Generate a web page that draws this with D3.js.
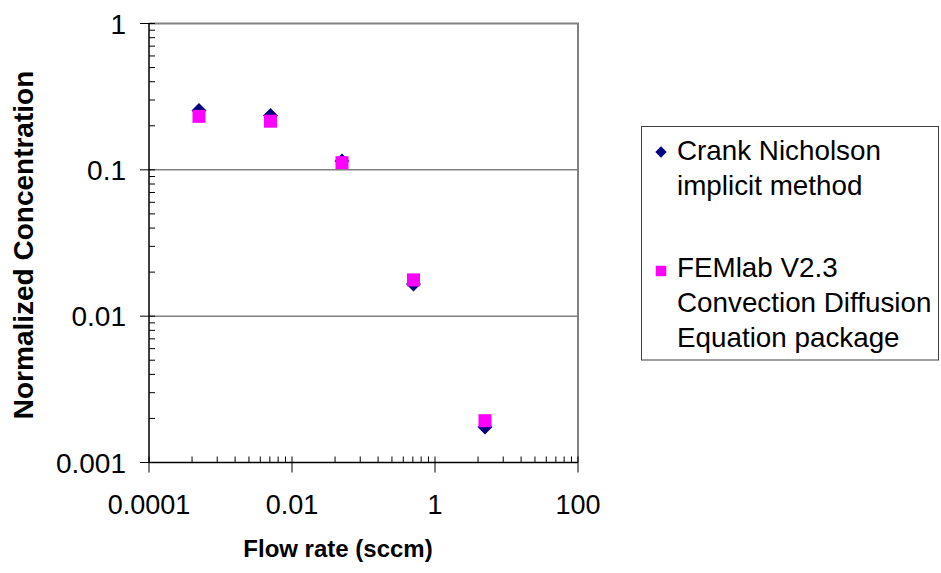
<html>
<style>
  body { margin: 0; background: #fff; }
  text { font-family: "Liberation Sans", Arial, sans-serif; fill: #000; }
</style>
<body>
<script src="https://d3js.org/d3.v7.min.js"></script>
<svg id="chart" width="941" height="573"></svg>
<script>
// data
var flow = [0.0005, 0.005, 0.05, 0.5, 5];
var crank = [0.254, 0.235, 0.115, 0.0166, 0.00175];
var femlab = [0.232, 0.215, 0.112, 0.0177, 0.00193];
var xTicks = [0.0001, 0.01, 1, 100];
var yTicks = [0.001, 0.01, 0.1, 1];
var seriesNames = [["Crank Nicholson", "implicit method"],
                   ["FEMlab V2.3", "Convection Diffusion", "Equation package"]];

var svg = d3.select("#chart");
var pL = 149, pR = 578, pT = 23.5, pB = 462.5;

var x = d3.scaleLog().domain([0.0001, 100]).range([pL, pR]);
var y = d3.scaleLog().domain([0.001, 1]).range([pB, pT]);

// gridlines
svg.selectAll(".grid").data([0.01, 0.1]).enter().append("line")
  .attr("x1", pL).attr("x2", pR)
  .attr("y1", function(d) { return y(d); }).attr("y2", function(d) { return y(d); })
  .style("stroke", "#808080").style("stroke-width", 1.5);

// plot border (top, right)
svg.append("path")
  .attr("d", "M" + pL + "," + pT + "H" + pR + "V" + pB)
  .style("fill", "none").style("stroke", "#808080").style("stroke-width", 2);

// minor ticks: y normal 2..9 per decade, x has major unit of 100 so k^2 steps
var yMinor = [];
yTicks.slice(0, 3).forEach(function(t) { for (var k = 2; k < 10; k++) yMinor.push(t * k); });
var xMinor = [];
xTicks.slice(0, 3).forEach(function(t) { for (var k = 2; k < 10; k++) xMinor.push(t * k * k); });

svg.selectAll(".ymin").data(yMinor).enter().append("line")
  .attr("x1", pL).attr("x2", pL + 6)
  .attr("y1", function(d) { return y(d); }).attr("y2", function(d) { return y(d); })
  .style("stroke", "#000").style("stroke-width", 1);
svg.selectAll(".xmin").data(xMinor).enter().append("line")
  .attr("y1", pB).attr("y2", pB - 6)
  .attr("x1", function(d) { return x(d); }).attr("x2", function(d) { return x(d); })
  .style("stroke", "#000").style("stroke-width", 1);

// major ticks
svg.selectAll(".ymaj").data(yTicks).enter().append("line")
  .attr("x1", pL - 9).attr("x2", pL + 6)
  .attr("y1", function(d) { return y(d); }).attr("y2", function(d) { return y(d); })
  .style("stroke", "#000").style("stroke-width", 1);
svg.selectAll(".xmaj").data(xTicks).enter().append("line")
  .attr("y1", pB - 6).attr("y2", pB + 10)
  .attr("x1", function(d) { return x(d); }).attr("x2", function(d) { return x(d); })
  .style("stroke", "#000").style("stroke-width", 1);

// axis lines
svg.append("line").attr("x1", pL).attr("x2", pL).attr("y1", pT).attr("y2", pB)
  .style("stroke", "#000").style("stroke-width", 1.5);
svg.append("line").attr("x1", pL).attr("x2", pR).attr("y1", pB).attr("y2", pB)
  .style("stroke", "#000").style("stroke-width", 1.5);

// tick labels
svg.selectAll(".ylab").data(yTicks).enter().append("text")
  .attr("x", 126).attr("y", function(d) { return y(d) + 10; })
  .attr("text-anchor", "end").style("font-size", "28px")
  .text(function(d) { return String(d); });
svg.selectAll(".xlab").data(xTicks).enter().append("text")
  .attr("x", function(d) { return x(d); }).attr("y", 514)
  .attr("text-anchor", "middle").style("font-size", "27px")
  .text(function(d) { return String(d); });

// axis titles
svg.append("text").attr("x", 338).attr("y", 557).attr("text-anchor", "middle")
  .style("font-size", "24px").style("font-weight", "bold").text("Flow rate (sccm)");
svg.append("text").attr("transform", "translate(33,245) rotate(-90)").attr("text-anchor", "middle")
  .style("font-size", "28px").style("font-weight", "bold").text("Normalized Concentration");

// markers
var diamond = d3.symbol().type(d3.symbolSquare).size(112);
var square = d3.symbol().type(d3.symbolSquare).size(169);
svg.selectAll(".cn").data(flow).enter().append("path")
  .attr("d", diamond)
  .attr("transform", function(d, i) { return "translate(" + x(d) + "," + y(crank[i]) + ") rotate(45)"; })
  .style("fill", "#000080");
svg.selectAll(".fe").data(flow).enter().append("path")
  .attr("d", square)
  .attr("transform", function(d, i) { return "translate(" + x(d) + "," + y(femlab[i]) + ")"; })
  .style("fill", "#ff00ff");

// legend
var lg = svg.append("g");
lg.append("rect").attr("x", 641.5).attr("y", 126.5).attr("width", 297).attr("height", 233.5)
  .style("fill", "#fff").style("stroke", "#404040").style("stroke-width", 1);
lg.append("path").attr("d", d3.symbol().type(d3.symbolSquare).size(64))
  .attr("transform", "translate(661,152) rotate(45)").style("fill", "#000080");
lg.append("path").attr("d", d3.symbol().type(d3.symbolSquare).size(110))
  .attr("transform", "translate(661,271)").style("fill", "#ff00ff");
var starts = [160, 277];
seriesNames.forEach(function(lines, s) {
  lines.forEach(function(t, j) {
    lg.append("text").attr("x", 677).attr("y", starts[s] + j * 35)
      .style("font-size", "27.8px").text(t);
  });
});
</script>
</body>
</html>
